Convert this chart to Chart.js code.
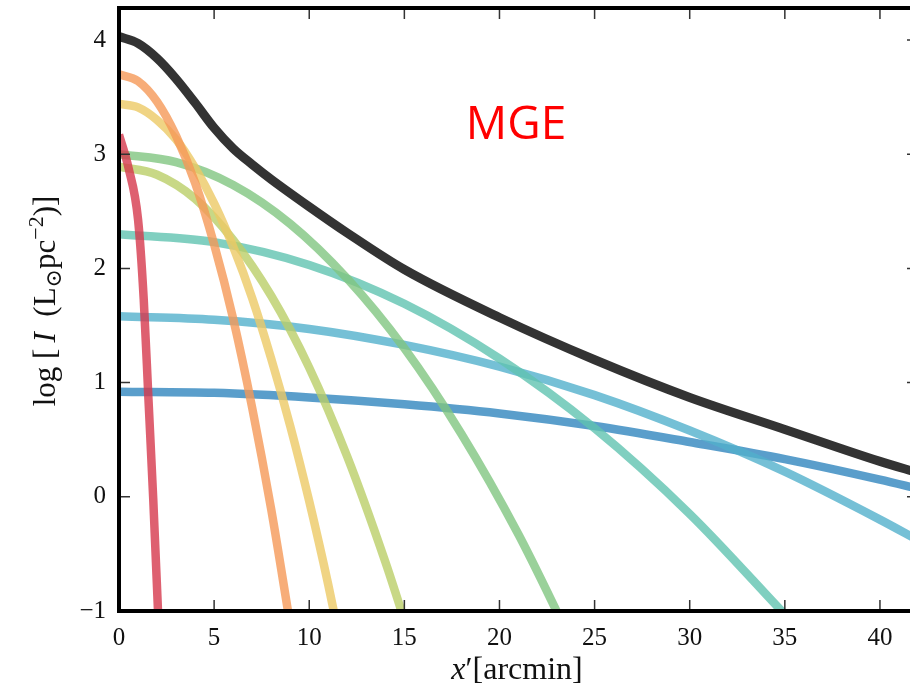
<!DOCTYPE html>
<html>
<head>
<meta charset="utf-8">
<script src="https://cdn.jsdelivr.net/npm/chart.js@4.4.1/dist/chart.umd.min.js"></script>
<style>
html, body { margin: 0; padding: 0; background: #fff; overflow: hidden; }
</style>
</head>
<body>
<canvas id="mgeChart" width="922" height="691"></canvas>
<script>
// Gaussian components of the MGE fit, [x' arcmin, log I]
const comp1 = [[0,3.17],[0.5,2.88],[1.0,2.43],[1.3,1.73],[1.55,0.85],[1.8,-0.02],[2.05,-1.0],[2.1,-1.2]];
const comp2 = [[0,3.70],[1,3.64],[2,3.46],[3,3.16],[4,2.75],[5,2.21],[6,1.56],[7,0.78],[8,-0.11],[9,-1.12]];
const comp3 = [[0,3.44],[1,3.41],[2,3.30],[3,3.13],[4,2.88],[5,2.57],[6,2.19],[7,1.74],[8,1.21],[9,0.62],[10,-0.04],[11,-0.77],[12,-1.57]];
const comp4 = [[0,2.89],[2,2.82],[4,2.61],[6,2.25],[8,1.76],[10,1.13],[12,0.35],[14,-0.57],[15,-1.08]];
const comp5 = [[0,3.00],[3,2.93],[6,2.73],[9,2.39],[12,1.91],[15,1.30],[18,0.55],[21,-0.33],[23,-1.0],[24,-1.35]];
const comp6 = [[0,2.30],[5,2.23],[10,2.03],[15,1.69],[20,1.21],[25,0.60],[30,-0.15],[35,-1.03]];
const comp7 = [[0,1.58],[5,1.55],[10,1.47],[15,1.33],[20,1.14],[25,0.89],[30,0.58],[35,0.22],[40,-0.20],[42,-0.38]];
const comp8 = [[0,0.92],[5,0.91],[10,0.87],[15,0.81],[20,0.73],[25,0.62],[30,0.48],[35,0.33],[40,0.15],[42,0.07]];
// summed profile
const total = [[0,4.03],[1,3.97],[2,3.84],[3,3.66],[4,3.45],[5,3.23],[6,3.05],[7,2.91],[8,2.78],[10,2.54],[12,2.31],[15,1.99],[20,1.57],[25,1.20],[30,0.87],[35,0.59],[40,0.31],[42,0.21]];

const compColors = [
  'rgba(214,56,76,0.8)', 'rgba(245,152,87,0.8)', 'rgba(236,201,101,0.8)', 'rgba(186,206,104,0.8)',
  'rgba(129,197,129,0.8)', 'rgba(96,195,176,0.8)', 'rgba(83,176,204,0.8)', 'rgba(49,134,190,0.8)'
];

const xTickValues = [0, 5, 10, 15, 20, 25, 30, 35, 40];
const yTickValues = [-1, 0, 1, 2, 3, 4];

const serif = "'Liberation Serif', 'DejaVu Serif', serif";
const pts = arr => arr.map(([x, y]) => ({ x, y }));

const comps = [comp1, comp2, comp3, comp4, comp5, comp6, comp7, comp8];
const datasets = [{
  data: pts(total), borderColor: '#333333', borderWidth: 9
}].concat(comps.map((c, i) => ({
  data: pts(c), borderColor: compColors[i], borderWidth: 8.5
})));
datasets.forEach(d => {
  d.pointRadius = 0;
  d.cubicInterpolationMode = 'monotone';
  d.clip = 0;
  d.borderCapStyle = 'butt';
});

function richText(ctx, parts, size) {
  const fontOf = p => `${p.it ? 'italic ' : ''}${Math.round(size * (p.s || 1))}px ${serif}`;
  let w = 0;
  parts.forEach(p => { ctx.font = fontOf(p); p.w = ctx.measureText(p.t).width; w += p.w; });
  let cx = -w / 2;
  parts.forEach(p => {
    ctx.font = fontOf(p);
    ctx.fillText(p.t, cx, (p.dy || 0) * size);
    cx += p.w;
  });
}

// frame, inward ticks, axis titles and the label
const framePlugin = {
  id: 'frame',
  afterDatasetsDraw(chart) {
    const { ctx, chartArea: a, scales: { x, y } } = chart;
    ctx.save();
    ctx.strokeStyle = '#333';
    ctx.lineWidth = 1.5;
    ctx.beginPath();
    xTickValues.forEach(v => {
      const p = x.getPixelForValue(v);
      ctx.moveTo(p, a.bottom); ctx.lineTo(p, a.bottom - 11);
      ctx.moveTo(p, a.top); ctx.lineTo(p, a.top + 11);
    });
    yTickValues.forEach(v => {
      const p = y.getPixelForValue(v);
      ctx.moveTo(a.left, p); ctx.lineTo(a.left + 11, p);
      ctx.moveTo(a.right, p); ctx.lineTo(a.right - 11, p);
    });
    ctx.stroke();

    ctx.strokeStyle = '#000';
    ctx.lineWidth = 4;
    ctx.strokeRect(a.left, a.top, a.right - a.left, a.bottom - a.top);

    ctx.fillStyle = '#111';
    ctx.textAlign = 'left';
    ctx.textBaseline = 'alphabetic';

    ctx.save();
    ctx.translate(517, 679);
    richText(ctx, [{ t: 'x', it: true }, { t: '\u2032' }, { t: '[arcmin]' }], 32);
    ctx.restore();

    ctx.save();
    ctx.translate(55, 301);
    ctx.rotate(-Math.PI / 2);
    richText(ctx, [
      { t: 'log [\u2009' }, { t: 'I', it: true }, { t: '\u2002(L' },
      { t: '\u2299', s: 0.7, dy: 0.2 }, { t: 'pc' },
      { t: '\u22122', s: 0.7, dy: -0.4 }, { t: ')]' }
    ], 31);
    ctx.restore();

    ctx.fillStyle = '#ff0000';
    ctx.textAlign = 'center';
    ctx.font = "46px 'Open Sans'";
    ctx.fillText('MGE', 516, 139);
    ctx.restore();
  }
};

new Chart(document.getElementById('mgeChart'), {
  type: 'line',
  data: { datasets },
  options: {
    responsive: false,
    animation: false,
    layout: { padding: { top: 8, right: 4, left: 0, bottom: 0 } },
    plugins: { legend: { display: false }, tooltip: { enabled: false } },
    scales: {
      x: {
        type: 'linear', min: 0, max: 42,
        grid: { display: false, drawTicks: false },
        border: { display: false },
        afterBuildTicks: s => { s.ticks = xTickValues.map(v => ({ value: v })); },
        afterFit: s => { s.height = 80; s.paddingLeft = 0; s.paddingRight = 0; },
        ticks: { color: '#111', padding: 12, maxRotation: 0, font: { family: serif, size: 25 } }
      },
      y: {
        min: -1, max: 4.28,
        grid: { display: false, drawTicks: false },
        border: { display: false },
        afterBuildTicks: s => { s.ticks = yTickValues.map(v => ({ value: v })); },
        afterFit: s => { s.width = 119; s.paddingTop = 0; s.paddingBottom = 0; },
        ticks: {
          color: '#111', padding: 13, font: { family: serif, size: 25 },
          callback: v => v < 0 ? '\u2212' + Math.abs(v) : String(v)
        }
      }
    }
  },
  plugins: [framePlugin]
});
</script>
</body>
</html>
